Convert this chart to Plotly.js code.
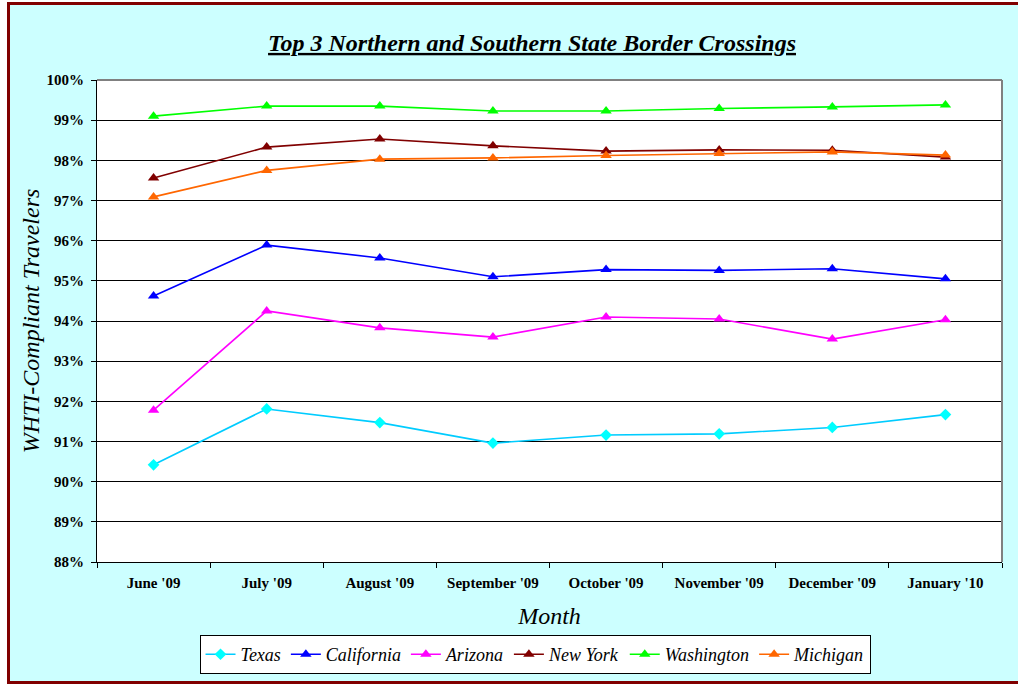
<!DOCTYPE html>
<html>
<head>
<meta charset="utf-8">
<script src="https://cdn.plot.ly/plotly-3.0.1.min.js"></script>
<style>
html, body { margin: 0; padding: 0; background: #ffffff; overflow: hidden; }
#wrap { position: absolute; left: 7px; top: 2px; width: 1020px; height: 682px; border: 3px solid #800000; box-sizing: border-box; background: #CCFFFF; }
#chart { width: 1014px; height: 676px; }
</style>
</head>
<body>
<div id="wrap"><div id="chart"></div></div>
<script>
const months = ["June '09", "July '09", "August '09", "September '09", "October '09", "November '09", "December '09", "January '10"];
const texas      = [90.42, 91.81, 91.47, 90.96, 91.16, 91.19, 91.35, 91.67];
const california = [94.62, 95.89, 95.57, 95.10, 95.28, 95.26, 95.30, 95.05];
const arizona    = [91.78, 94.25, 93.83, 93.60, 94.10, 94.05, 93.55, 94.03];
const newYork    = [97.56, 98.33, 98.53, 98.36, 98.23, 98.26, 98.25, 98.08];
const washington = [99.10, 99.35, 99.35, 99.23, 99.23, 99.29, 99.33, 99.38];
const michigan   = [97.09, 97.75, 98.03, 98.06, 98.12, 98.17, 98.21, 98.13];
const yTicks = [88, 89, 90, 91, 92, 93, 94, 95, 96, 97, 98, 99, 100];

function series(name, y, lineColor, markerColor, symbol) {
  return {
    type: 'scatter', mode: 'lines+markers', name: name, x: months, y: y,
    line: { color: lineColor, width: 1.6 },
    marker: { color: markerColor, symbol: symbol, size: symbol === 'diamond' ? 9 : 10, line: { width: 0 } },
    hoverinfo: 'x+y+name'
  };
}

const data = [
  series('Texas', texas, '#00CCFF', '#00FFFF', 'diamond'),
  series('California', california, '#0000FF', '#0000FF', 'triangle-up'),
  series('Arizona', arizona, '#FF00FF', '#FF00FF', 'triangle-up'),
  series('New York', newYork, '#800000', '#800000', 'triangle-up'),
  series('Washington', washington, '#00FF00', '#00FF00', 'triangle-up'),
  series('Michigan', michigan, '#FF6600', '#FF6600', 'triangle-up')
];

const serif = 'Liberation Serif';

const layout = {
  width: 1014, height: 676,
  margin: { l: 87, r: 22, t: 75, b: 119, autoexpand: false },
  paper_bgcolor: 'rgba(0,0,0,0)',
  plot_bgcolor: '#FFFFFF',
  font: { family: serif, color: '#000000' },
  title: {
    text: '<b><i><u>Top 3 Northern and Southern State Border Crossings</u></i></b>',
    font: { family: serif, size: 24, color: '#000000' },
    xref: 'paper', x: 0.4807, xanchor: 'center',
    yref: 'paper', y: 1.09, yanchor: 'middle'
  },
  xaxis: {
    type: 'category',
    range: [-0.5, 7.5],
    automargin: false,
    tickson: 'boundaries',
    ticks: 'outside', ticklen: 5, tickcolor: '#000000',
    ticklabelstandoff: 7,
    showline: true, linecolor: '#000000', linewidth: 1,
    showgrid: false, zeroline: false,
    tickfont: { family: serif, size: 15, color: '#000000', weight: 'bold' },
    title: { text: '<i>Month</i>', font: { family: serif, size: 24, color: '#000000' }, standoff: 17 }
  },
  yaxis: {
    range: [88, 100],
    automargin: false,
    tickvals: yTicks,
    ticktext: yTicks.map(v => '<b>' + v + '%</b>'),
    ticks: 'outside', ticklen: 5, tickcolor: '#000000',
    ticklabelstandoff: 4,
    showline: true, linecolor: '#000000', linewidth: 1,
    showgrid: true, gridcolor: '#000000', gridwidth: 1,
    zeroline: false,
    tickfont: { family: serif, size: 15, color: '#000000' },
    title: { text: '<i>WHTI-Compliant Travelers</i>', font: { family: serif, size: 24, color: '#000000' }, standoff: 0 }
  },
  showlegend: true,
  legend: {
    orientation: 'h',
    x: 0.484, xanchor: 'center',
    y: -0.192, yanchor: 'middle',
    bgcolor: '#FFFFFF', bordercolor: '#000000', borderwidth: 1,
    font: { family: serif, size: 18, color: '#000000', style: 'italic' },
    itemwidth: 30, tracegroupgap: 0
  },
  shapes: [
    { type: 'line', xref: 'paper', yref: 'paper', x0: 0, x1: 1, y0: 1, y1: 1, line: { color: '#808080', width: 2 } },
    { type: 'line', xref: 'paper', yref: 'paper', x0: 1, x1: 1, y0: 0, y1: 1, line: { color: '#808080', width: 2 } }
  ]
};

Plotly.newPlot('chart', data, layout, { displayModeBar: false, staticPlot: true });
</script>
</body>
</html>
